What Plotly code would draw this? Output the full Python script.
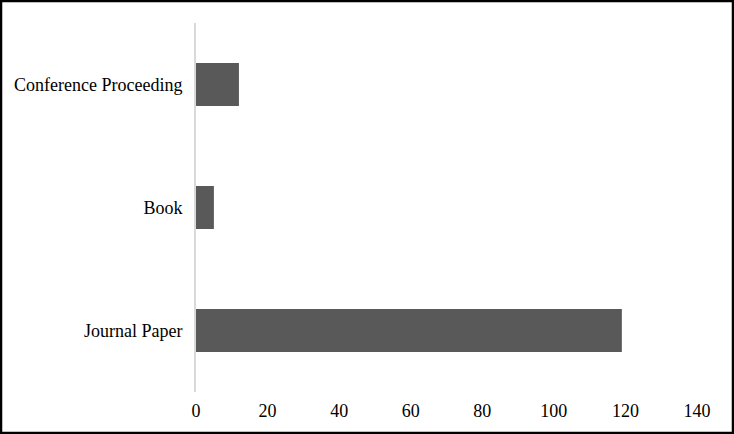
import plotly.graph_objects as go

# %% Data

categories = ["Journal Paper", "Book", "Conference Proceeding"]
counts = [119, 5, 12]
x_ticks = [0, 20, 40, 60, 80, 100, 120, 140]

# %% Figure

W, H = 734, 434
ml, mr, mt, mb = 196, 37, 23, 42
pw, ph = W - ml - mr, H - mt - mb

fig = go.Figure(go.Bar(
    y=categories, x=counts, orientation="h",
    marker=dict(color="#595959", line=dict(width=0)),
    width=0.35,
))

fig.update_layout(
    width=W, height=H,
    margin=dict(l=ml, r=mr, t=mt, b=mb),
    paper_bgcolor="white", plot_bgcolor="white",
    font=dict(family="Liberation Serif, Times New Roman, serif", size=18,
              color="black"),
    showlegend=False,
)
fig.update_xaxes(
    range=[0, 140], tickvals=x_ticks, showgrid=False, zeroline=False,
    showline=False, ticks="", ticklabelstandoff=6,
)
fig.update_yaxes(
    categoryorder="array", categoryarray=categories,
    showgrid=False, zeroline=False, showline=True, linecolor="#d9d9d9",
    linewidth=2, ticks="", ticklabelstandoff=8,
)

# outer frame around the whole picture
fig.add_shape(
    type="rect", xref="paper", yref="paper",
    x0=(1 - ml) / pw, x1=(W - 1 - ml) / pw,
    y0=-(mb - 1) / ph, y1=1 + (mt - 1) / ph,
    line=dict(color="black", width=2.5), fillcolor="rgba(0,0,0,0)",
    layer="above",
)

fig.write_html("out.html", config={"displayModeBar": False},
               post_script="document.body.style.margin='0';")
